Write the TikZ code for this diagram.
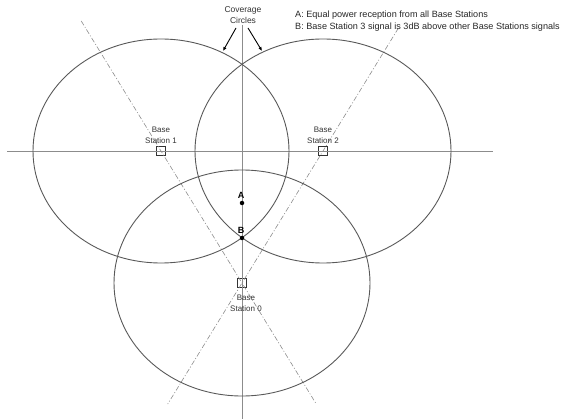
\documentclass[tikz,border=0pt]{standalone}
\usepackage{fontspec}
\setmainfont{Liberation Sans}
\usetikzlibrary{arrows.meta,calc}
\begin{document}
\begin{tikzpicture}[x=1pt,y=-1pt,
  axisline/.style={draw=black!45, line width=0.7pt},
  cov/.style={draw=black!65, line width=0.9pt},
  dashdot/.style={draw=black!45, line width=0.6pt, dash pattern=on 5pt off 2pt on 1pt off 2pt},
  bs/.style={draw=black!80, line width=0.7pt, minimum size=9pt, inner sep=0pt},
  lbl/.style={font=\fontsize{8}{11}\selectfont, align=center, inner sep=0pt, text=black!80},
  note/.style={font=\fontsize{9.1}{10}\selectfont, anchor=west, inner sep=0pt, text=black!85},
  ptlbl/.style={font=\fontsize{9}{9}\selectfont\bfseries, inner sep=0pt},
  dot/.style={circle, fill=black, minimum size=4.5pt, inner sep=0pt},
  arr/.style={draw=black, line width=0.9pt, -{Latex[length=4pt,width=3.5pt]}}]
\useasboundingbox (0,0) rectangle (561,419);

% base stations
\node[bs] (s1) at (161,151) {};
\node[bs] (s2) at (323,151) {};
\node[bs] (s0) at (242,283) {};

% axes
\coordinate (hL) at (7,151);
\coordinate (hR) at (493,151);
\coordinate (vT) at (242,25);
\coordinate (vB) at (242,419);
\draw[axisline] (hL) -- (hR);
\draw[axisline] (vT) -- (vB);

% dash-dot lines through stations
\coordinate (d1a) at ($(s1.center)!-0.985!(s0.center)$);
\coordinate (d1b) at ($(s1.center)!1.917!(s0.center)$);
\coordinate (d2a) at ($(s2.center)!-0.93!(s0.center)$);
\coordinate (d2b) at ($(s2.center)!1.917!(s0.center)$);
\draw[dashdot] (d1a) -- (d1b);
\draw[dashdot] (d2a) -- (d2b);

% coverage ellipses
\draw[cov] (s1.center) ellipse [x radius=128pt, y radius=112pt];
\draw[cov] (s2.center) ellipse [x radius=128pt, y radius=112pt];
\draw[cov] (s0.center) ellipse [x radius=128pt, y radius=113pt];

% station labels
\node[lbl] (l1) at (161,135.5) {Base\\Station 1};
\node[lbl] (l2) at (323,135.5) {Base\\Station 2};
\node[lbl] (l0) at (246,303.5) {Base\\Station 0};

% points A and B
\node[dot] (pA) at (242,203) {};
\node[dot] (pB) at (242,238) {};
\node[ptlbl] (tA) at (241,195) {A};
\node[ptlbl] (tB) at (241,230) {B};

% coverage circles label and arrows
\node[lbl, font=\fontsize{8.5}{11}\selectfont] (covl) at (243,15.5) {Coverage\\Circles};
\coordinate (aLs) at (236,28);
\coordinate (aLe) at (223,51);
\coordinate (aRs) at (248,28);
\coordinate (aRe) at (262,51);
\draw[arr] (aLs) -- (aLe);
\draw[arr] (aRs) -- (aRe);

% notes
\node[note] (nA) at (295,15) {A: Equal power reception from all Base Stations};
\node[note] (nB) at (295,27.5) {B: Base Station 3 signal is 3dB above other Base Stations signals};
\end{tikzpicture}
\end{document}
